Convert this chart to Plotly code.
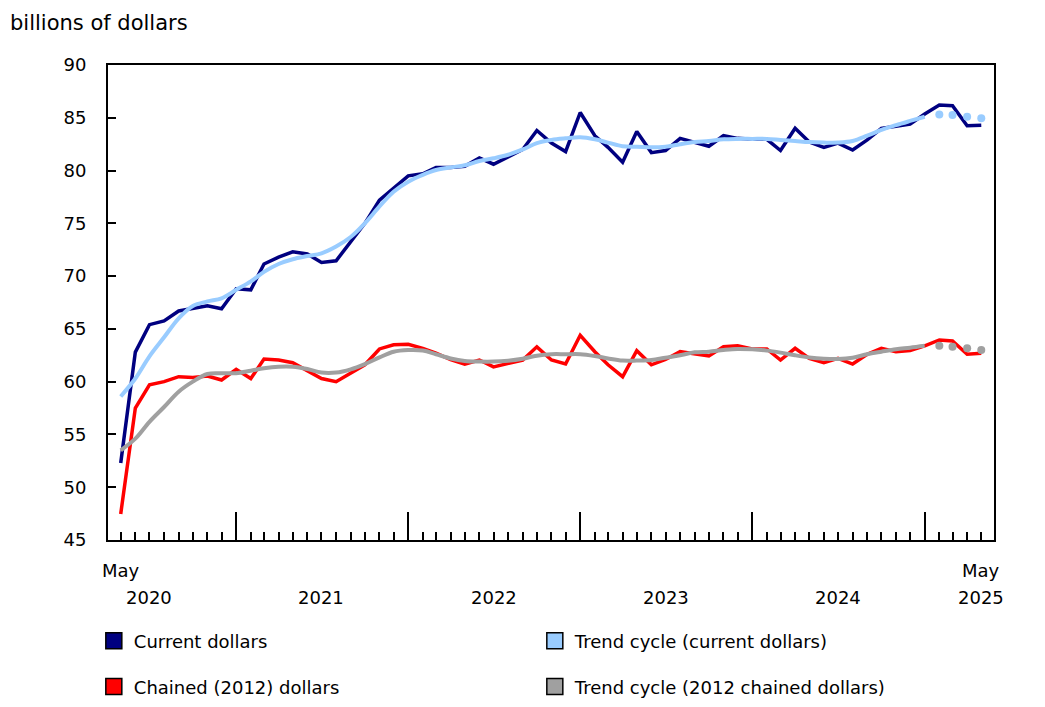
import pandas as pd
import plotly.graph_objects as go

# monthly, May 2020 to May 2025
months = pd.date_range(start="2020-05-01", periods=61, freq="MS")

current_dollars = [
    52.3, 62.8, 65.4, 65.75, 66.7, 66.95, 67.2, 66.9, 68.8, 68.7,
    71.15, 71.8, 72.3, 72.1, 71.3, 71.45, 73.26, 75.0, 77.2, 78.3,
    79.5, 79.7, 80.3, 80.3, 80.4, 81.2, 80.6, 81.3, 82.0, 83.8,
    82.6, 81.8, 85.5, 83.3, 82.2, 80.8, 83.7, 81.7, 81.9, 83.05,
    82.7, 82.3, 83.3, 83.05, 82.96, 82.96, 81.9, 84.0, 82.7, 82.2,
    82.6, 81.95, 82.9, 84.0, 84.2, 84.4, 85.36, 86.2, 86.15, 84.25,
    84.3,
]
trend_current = [
    58.6, 60.3, 62.4, 64.2, 66.0, 67.17, 67.6, 67.9, 68.7, 69.5,
    70.4, 71.15, 71.6, 71.9, 72.16, 72.8, 73.7, 75.0, 76.6, 78.0,
    78.95, 79.6, 80.05, 80.3, 80.5, 80.9, 81.16, 81.5, 82.0, 82.6,
    82.9, 83.05, 83.15, 82.96, 82.65, 82.3, 82.26, 82.2, 82.26, 82.5,
    82.7, 82.8, 82.96, 83.0, 83.0, 83.0, 82.9, 82.8, 82.7, 82.65,
    82.65, 82.8, 83.3, 83.85, 84.3, 84.7, 85.1, 85.3, 85.26, 85.1,
    84.95,
]
chained_dollars = [
    47.47, 57.5, 59.7, 60.0, 60.47, 60.4, 60.54, 60.16, 61.17, 60.3,
    62.15, 62.05, 61.8, 61.04, 60.3, 60.0, 60.8, 61.6, 63.1, 63.5,
    63.54, 63.16, 62.7, 62.1, 61.65, 62.05, 61.4, 61.74, 62.05, 63.3,
    62.05, 61.67, 64.4, 62.84, 61.6, 60.47, 62.94, 61.6, 62.1, 62.84,
    62.6, 62.43, 63.3, 63.4, 63.1, 63.1, 62.05, 63.16, 62.2, 61.8,
    62.2, 61.67, 62.6, 63.16, 62.84, 62.94, 63.4, 63.95, 63.85, 62.6,
    62.7,
]
trend_chained = [
    53.5, 54.6, 56.2, 57.6, 59.05, 60.0, 60.73, 60.8, 60.8, 61.04,
    61.27, 61.42, 61.42, 61.2, 60.86, 60.86, 61.17, 61.67, 62.3, 62.84,
    63.0, 62.95, 62.6, 62.2, 61.96, 61.9, 61.9, 61.99, 62.18, 62.46,
    62.6, 62.6, 62.6, 62.43, 62.2, 62.0, 62.0, 62.05, 62.27, 62.5,
    62.78, 62.84, 63.0, 63.1, 63.06, 62.94, 62.75, 62.5, 62.3, 62.18,
    62.15, 62.27, 62.6, 62.84, 63.07, 63.22, 63.4, 63.4, 63.3, 63.16,
    63.0,
]
n_provisional = 4  # last trend points drawn as dots

year_labels = ["2020", "2021", "2022", "2023", "2024", "2025"]
year_label_dates = ["2020-07-01", "2021-07-01", "2022-07-01", "2023-07-01", "2024-07-01", "2025-05-01"]
major_ticks = ["2021-01-01", "2022-01-01", "2023-01-01", "2024-01-01", "2025-01-01"]

NAVY = "#000080"
LIGHTBLUE = "#99CCFF"
RED = "#FF0000"
GREY = "#A0A0A0"
FONT = "Verdana, DejaVu Sans, sans-serif"

fig = go.Figure()
cut = len(months) - n_provisional

# actual series
fig.add_trace(go.Scatter(x=months, y=current_dollars, mode="lines",
                         line=dict(color=NAVY, width=3.5), showlegend=False))
fig.add_trace(go.Scatter(x=months, y=chained_dollars, mode="lines",
                         line=dict(color=RED, width=3.5), showlegend=False))
# trend cycles: solid, then dots for the last months
for trend, col in [(trend_current, LIGHTBLUE), (trend_chained, GREY)]:
    fig.add_trace(go.Scatter(x=months[:cut], y=trend[:cut], mode="lines",
                             line=dict(color=col, width=4), line_shape="spline",
                             showlegend=False))
    fig.add_trace(go.Scatter(x=months[cut:], y=trend[cut:], mode="markers",
                             marker=dict(color=col, size=8), showlegend=False))

# legend entries (square swatches)
legend_items = [
    ("Current dollars", NAVY, "legend"),
    ("Trend cycle (current dollars)", LIGHTBLUE, "legend"),
    ("Chained (2012) dollars", RED, "legend2"),
    ("Trend cycle (2012 chained dollars)", GREY, "legend2"),
]
for name, col, leg in legend_items:
    fig.add_trace(go.Scatter(x=[None], y=[None], mode="markers", name=name,
                             marker=dict(symbol="square", size=18, color=col,
                                         line=dict(color="black", width=1.5)),
                             legend=leg))

# x-axis labels
for d in [months[0], months[-1]]:
    fig.add_annotation(x=d, y=-0.065, xref="x", yref="paper", text="May",
                       yanchor="middle", showarrow=False, font=dict(size=18))
for lbl, d in zip(year_labels, year_label_dates):
    fig.add_annotation(x=d, y=-0.122, xref="x", yref="paper", text=lbl,
                       yanchor="middle", showarrow=False, font=dict(size=18))

fig.add_annotation(x=-0.1129, y=1.118, xref="paper", yref="paper", xanchor="left",
                   yanchor="top", text="billions of dollars", showarrow=False,
                   font=dict(size=21))

fig.update_xaxes(
    type="date", range=["2020-04-04", "2025-05-28"],
    tickvals=major_ticks, ticks="inside", ticklen=28, tickwidth=1.5, tickcolor="black",
    showticklabels=False, showgrid=False, zeroline=False,
    showline=True, linecolor="black", linewidth=2, mirror=True,
    minor=dict(ticks="inside", ticklen=8, tickwidth=1.5, tickcolor="black",
               dtick="M1", tick0="2020-05-01", showgrid=False),
)
fig.update_yaxes(
    range=[45, 90], dtick=5, tick0=45, ticks="inside", ticklen=8, tickwidth=1.5,
    tickcolor="black", showgrid=False, zeroline=False,
    showline=True, linecolor="black", linewidth=2, mirror=True,
    tickfont=dict(size=18), ticklabelstandoff=16,
)

legend_style = dict(orientation="h", xanchor="left", yanchor="middle", x=-0.016,
                    entrywidth=396, entrywidthmode="pixels",
                    font=dict(size=18), itemsizing="trace", bgcolor="rgba(0,0,0,0)")
fig.update_layout(
    width=1045, height=707,
    margin=dict(l=100, r=59, t=57, b=175, autoexpand=False),
    paper_bgcolor="white", plot_bgcolor="white",
    font=dict(family=FONT, color="black", size=18),
    legend=dict(y=-0.2126, **legend_style),
    legend2=dict(y=-0.309, **legend_style),
)

fig.write_html("out.html")
